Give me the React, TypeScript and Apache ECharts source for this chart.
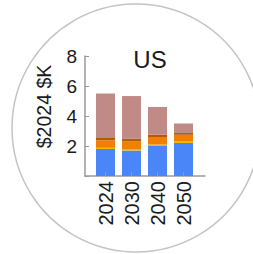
import React, { useEffect, useRef } from "react";
import * as echarts from "echarts";

const years = ["2024", "2030", "2040", "2050"];
const blueSeg = [1.8, 1.7, 2.0, 2.2];
const yellowSeg = [0.08, 0.1, 0.1, 0.1];
const orangeSeg = [0.5, 0.5, 0.5, 0.45];
const brownSeg = [0.2, 0.2, 0.15, 0.12];
const roseSeg = [2.92, 2.83, 1.85, 0.63];

const seriesDefs = [
  { name: "A", data: blueSeg, color: "#4a86f8" },
  { name: "B", data: yellowSeg, color: "#f2b705" },
  { name: "C", data: orangeSeg, color: "#f17f00" },
  { name: "D", data: brownSeg, color: "#b35c08" },
  { name: "E", data: roseSeg, color: "#c08a86" },
];

export default function App() {
  const ref = useRef<HTMLDivElement>(null);
  useEffect(() => {
    if (!ref.current) return;
    const chart = echarts.init(ref.current, undefined, { renderer: "svg" });
    const font = "Liberation Sans, Arial, sans-serif";
    const axisColor = "#9a9a9a";
    chart.setOption({
      animation: false,
      title: {
        text: "US",
        left: 145,
        top: 42,
        textAlign: "center",
        textStyle: { fontSize: 24, fontWeight: "normal", color: "#1a1a1a", fontFamily: font },
      },
      graphic: [
        {
          type: "circle",
          shape: { cx: 136, cy: 128, r: 124 },
          style: { fill: "none", stroke: "#c4c4c4", lineWidth: 1.5 },
          silent: true,
          z: 0,
        },
        {
          type: "text",
          x: 44,
          y: 106.5,
          rotation: Math.PI / 2,
          style: {
            text: "$2024 $K",
            fontSize: 19.5,
            fontFamily: font,
            fill: "#1a1a1a",
            align: "center",
            verticalAlign: "middle",
          },
        },
      ],
      grid: [
        { left: 92.5, top: 56, width: 104, height: 120 },
        { left: 85, top: 56, width: 120, height: 120 },
      ],
      xAxis: [
        {
          type: "category",
          gridIndex: 0,
          data: years,
          axisLine: { show: false },
          axisTick: {
            show: true,
            inside: true,
            alignWithLabel: true,
            interval: 0,
            length: 4,
            lineStyle: { color: axisColor },
          },
          axisLabel: {
            interval: 0,
            hideOverlap: false,
            rotate: 90,
            margin: 5,
            fontSize: 20,
            fontFamily: font,
            color: "#1a1a1a",
          },
          z: 5,
        },
        {
          type: "value",
          gridIndex: 1,
          min: 0,
          max: 1,
          axisLine: { show: true, onZero: false, lineStyle: { color: axisColor, width: 1.5 } },
          axisTick: { show: false },
          axisLabel: { show: false },
          splitLine: { show: false },
        },
      ],
      yAxis: [
        {
          type: "value",
          gridIndex: 0,
          min: 0,
          max: 8,
          interval: 2,
          show: false,
        },
        {
          type: "value",
          gridIndex: 1,
          min: 0,
          max: 8,
          interval: 2,
          splitLine: { show: false },
          axisLine: { show: true, onZero: false, lineStyle: { color: axisColor, width: 1.5 } },
          axisTick: { show: true, inside: true, length: 4, lineStyle: { color: axisColor } },
          axisLabel: {
            formatter: (v: number) => (v === 0 ? "" : String(v)),
            margin: 8,
            fontSize: 19,
            fontFamily: font,
            color: "#1a1a1a",
          },
        },
      ],
      series: seriesDefs.map((s) => ({
        name: s.name,
        type: "bar",
        xAxisIndex: 0,
        yAxisIndex: 0,
        stack: "total",
        barWidth: 19,
        itemStyle: { color: s.color },
        data: s.data,
      })),
    });
    return () => chart.dispose();
  }, []);
  return (
    <div
      ref={ref}
      style={{ position: "absolute", left: 0, top: 0, width: 253, height: 254 }}
    />
  );
}
